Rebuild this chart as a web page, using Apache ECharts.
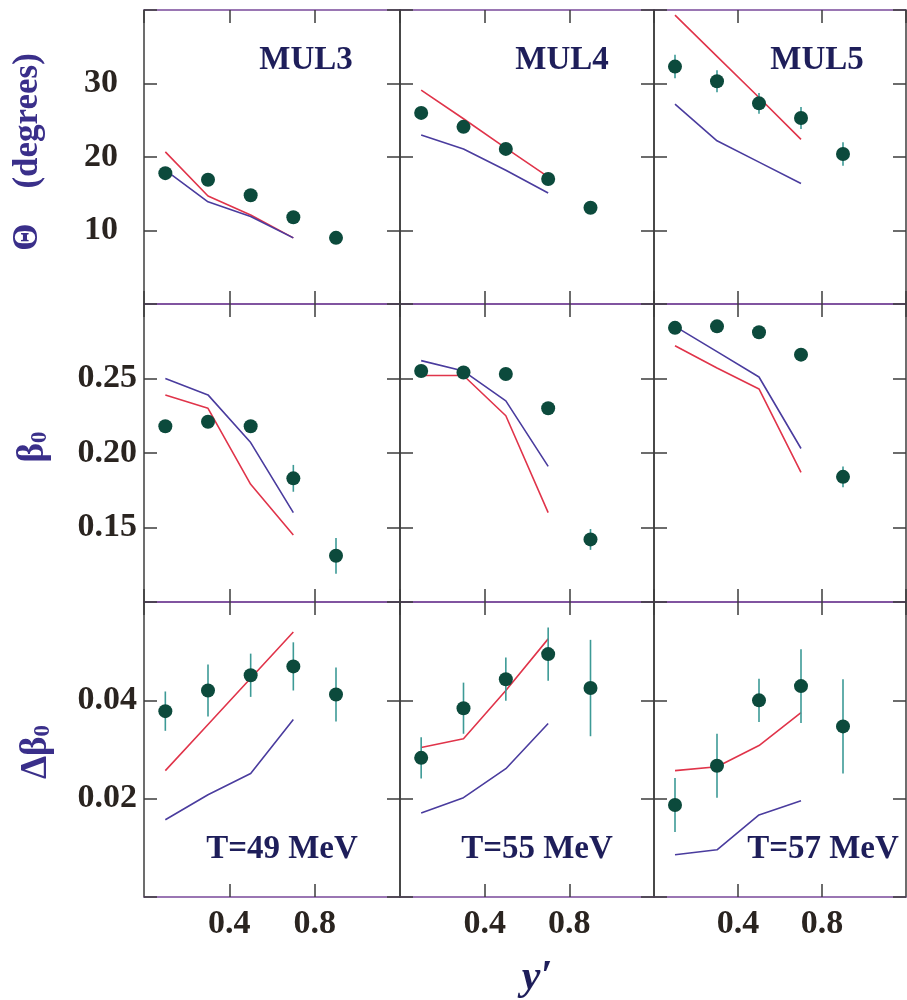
<!DOCTYPE html>
<html>
<head>
<meta charset="utf-8">
<script src="https://cdn.jsdelivr.net/npm/echarts@6/dist/echarts.min.js"></script>
<style>
  html, body { margin: 0; padding: 0; background: #fff; }
  #chart { width: 907px; height: 1000px; }
</style>
</head>
<body>
<div id="chart"></div>
<script>
// x positions (y')
var yPrime = [0.1, 0.3, 0.5, 0.7, 0.9];
var modelX = [0.1, 0.3, 0.5, 0.7];
var xTicks = ['0.4', '0.8'];

var panelTop = ['MUL3', 'MUL4', 'MUL5'];
var panelBottom = ['T=49 MeV', 'T=55 MeV', 'T=57 MeV'];

// Theta (degrees): one row per column MUL3, MUL4, MUL5
var thetaExp = [[17.8, 16.9, 14.8, 11.8, 9.0], [26.0, 24.1, 21.1, 17.0, 13.1], [32.3, 30.3, 27.3, 25.3, 20.4]];
var thetaErr = [[0.6, 0.6, 0.6, 0.6, 0.6], [0.6, 0.6, 0.6, 0.6, 0.6], [1.6, 1.5, 1.4, 1.5, 1.6]];
var thetaRed = [[20.7, 14.7, 12.1, 9.0], [29.1, 25.2, 21.2, 17.3], [39.3, 33.7, 28.1, 22.4]];
var thetaBlue = [[18.2, 13.9, 11.9, 9.0], [23.0, 21.1, 18.2, 15.1], [27.2, 22.2, 19.3, 16.4]];

// beta_0
var betaExp = [[0.218, 0.221, 0.218, 0.183, 0.131], [0.255, 0.254, 0.253, 0.230, 0.142], [0.284, 0.285, 0.281, 0.266, 0.184]];
var betaErr = [[0.004, 0.004, 0.004, 0.009, 0.012], [0.004, 0.004, 0.004, 0.004, 0.007], [0.004, 0.004, 0.004, 0.004, 0.007]];
var betaRed = [[0.239, 0.230, 0.179, 0.145], [0.252, 0.252, 0.225, 0.160], [0.272, 0.257, 0.243, 0.187]];
var betaBlue = [[0.250, 0.239, 0.207, 0.160], [0.262, 0.255, 0.235, 0.191], [0.285, 0.268, 0.251, 0.203]];

// delta beta_0
var dbExp = [[0.0378, 0.0420, 0.0451, 0.0469, 0.0412], [0.0283, 0.0384, 0.0443, 0.0494, 0.0425], [0.0187, 0.0267, 0.0400, 0.0429, 0.0347]];
var dbErr = [[0.0040, 0.0053, 0.0044, 0.0049, 0.0055], [0.0042, 0.0052, 0.0044, 0.0054, 0.0098], [0.0055, 0.0065, 0.0044, 0.0075, 0.0096]];
var dbRed = [[0.0257, 0.0351, 0.0445, 0.0539], [0.0304, 0.0322, 0.0420, 0.0525], [0.0257, 0.0265, 0.0308, 0.0375]];
var dbBlue = [[0.0157, 0.0208, 0.0251, 0.0361], [0.0171, 0.0202, 0.0261, 0.0353], [0.0086, 0.0096, 0.0167, 0.0196]];

var rowExp = [thetaExp, betaExp, dbExp];
var rowErr = [thetaErr, betaErr, dbErr];
var rowRed = [thetaRed, betaRed, dbRed];
var rowBlue = [thetaBlue, betaBlue, dbBlue];
var rowMin = [0, 0.10, 0];
var rowMax = [40, 0.30, 0.06];
var rowStep = [10, 0.05, 0.02];

// layout
var colLeft = [144, 400, 654];
var colWidth = [256, 254, 252];
var rowTop = [10, 304, 602];
var rowHeight = [294, 298, 295];
var topLabelX = [306, 562, 817];
var bottomLabelX = [282, 537, 823];

var FONT = '"Liberation Serif", "Times New Roman", serif';
var hLine = '#7a4a9a';
var vLine = '#3c3c3c';
var redC = '#e0344a';
var blueC = '#4a3c9e';
var dotC = '#0c4a3c';
var errC = '#3d9a96';
var nameC = '#3a2f8a';
var labelC = '#1e1e5a';

function yLabel(r) {
  return function (v) {
    if (r === 0) return (v > 5 && v < 35) ? String(Math.round(v)) : '';
    if (r === 1) return (v > 0.12 && v < 0.28) ? v.toFixed(2) : '';
    return (v > 0.01 && v < 0.05) ? v.toFixed(2) : '';
  };
}
function xLabel(v) {
  for (var k = 0; k < xTicks.length; k++) {
    if (Math.abs(v - parseFloat(xTicks[k])) < 1e-6) return xTicks[k];
  }
  return '';
}
function zip(xs, ys) {
  return xs.map(function (x, k) { return [x, ys[k]]; });
}

var grids = [], xAxes = [], yAxes = [], series = [];
for (var r = 0; r < 3; r++) {
  for (var c = 0; c < 3; c++) {
    var gi = grids.length;
    grids.push({
      left: colLeft[c], top: rowTop[r], width: colWidth[c], height: rowHeight[r],
      containLabel: false, outerBoundsMode: 'none'
    });
    ['bottom', 'top'].forEach(function (pos) {
      xAxes.push({
        type: 'value', gridIndex: gi, position: pos, min: 0, max: 1.2, interval: 0.4,
        axisLine: { show: true, onZero: false, lineStyle: { color: hLine, width: 1.5 } },
        axisTick: { show: true, inside: true, length: 13, lineStyle: { color: vLine, width: 1.5 } },
        axisLabel: {
          show: pos === 'bottom' && r === 2, formatter: xLabel, margin: 10,
          fontFamily: FONT, fontWeight: 'bold', fontSize: 34, color: '#2a2420',
          showMinLabel: false, showMaxLabel: false
        },
        splitLine: { show: false }
      });
    });
    ['left', 'right'].forEach(function (pos) {
      yAxes.push({
        type: 'value', gridIndex: gi, position: pos,
        min: rowMin[r], max: rowMax[r], interval: rowStep[r],
        axisLine: { show: true, onZero: false, lineStyle: { color: vLine, width: 1.5 } },
        axisTick: { show: true, inside: true, length: 13, lineStyle: { color: vLine, width: 1.5 } },
        axisLabel: {
          show: pos === 'left' && c === 0, formatter: yLabel(r), margin: r === 0 ? 26 : 7,
          fontFamily: FONT, fontWeight: 'bold', fontSize: 34, color: '#2a2420'
        },
        splitLine: { show: false }
      });
    });
    var ax = 2 * gi;
    series.push({
      type: 'line', xAxisIndex: ax, yAxisIndex: ax, data: zip(modelX, rowRed[r][c]),
      symbol: 'none', lineStyle: { color: redC, width: 1.6 }, z: 2, silent: true
    });
    series.push({
      type: 'line', xAxisIndex: ax, yAxisIndex: ax, data: zip(modelX, rowBlue[r][c]),
      symbol: 'none', lineStyle: { color: blueC, width: 1.6 }, z: 2, silent: true
    });
    series.push({
      type: 'custom', xAxisIndex: ax, yAxisIndex: ax, z: 3, silent: true,
      data: yPrime.map(function (x, k) { return [x, rowExp[r][c][k], rowErr[r][c][k]]; }),
      encode: { x: 0, y: 1 },
      renderItem: function (params, api) {
        var x = api.value(0), y = api.value(1), e = api.value(2);
        var p1 = api.coord([x, y - e]);
        var p2 = api.coord([x, y + e]);
        return {
          type: 'line',
          shape: { x1: p1[0], y1: p1[1], x2: p2[0], y2: p2[1] },
          style: { stroke: errC, lineWidth: 1.6 }
        };
      }
    });
    series.push({
      type: 'scatter', xAxisIndex: ax, yAxisIndex: ax, z: 4, silent: true,
      data: zip(yPrime, rowExp[r][c]), symbol: 'circle', symbolSize: 14,
      itemStyle: { color: dotC, opacity: 1 }
    });
  }
}

var graphics = [];
panelTop.forEach(function (t, c) {
  graphics.push({
    type: 'text', x: topLabelX[c], y: 60,
    style: { text: t, font: 'bold 33px ' + FONT, fill: labelC, align: 'center', verticalAlign: 'middle' }
  });
});
panelBottom.forEach(function (t, c) {
  graphics.push({
    type: 'text', x: bottomLabelX[c], y: 849,
    style: { text: t, font: 'bold 33px ' + FONT, fill: labelC, align: 'center', verticalAlign: 'middle' }
  });
});
// axis names
graphics.push({
  type: 'text', x: 28, y: 152, rotation: Math.PI / 2,
  style: { text: '\u0398    (degrees)', font: 'bold 35px ' + FONT, fill: nameC, align: 'center', verticalAlign: 'middle' }
});
graphics.push({
  type: 'text', x: 30, y: 447, rotation: Math.PI / 2,
  style: {
    text: '{b|\u03b2}{s|0}', align: 'center', verticalAlign: 'middle',
    rich: {
      b: { font: 'bold 37px ' + FONT, fill: nameC, lineHeight: 44, verticalAlign: 'bottom' },
      s: { font: 'bold 23px ' + FONT, fill: nameC, lineHeight: 44, verticalAlign: 'bottom' }
    }
  }
});
graphics.push({
  type: 'text', x: 33, y: 752, rotation: Math.PI / 2,
  style: {
    text: '{b|\u0394\u03b2}{s|0}', align: 'center', verticalAlign: 'middle',
    rich: {
      b: { font: 'bold 37px ' + FONT, fill: nameC, lineHeight: 44, verticalAlign: 'bottom' },
      s: { font: 'bold 23px ' + FONT, fill: nameC, lineHeight: 44, verticalAlign: 'bottom' }
    }
  }
});
graphics.push({
  type: 'text', x: 537, y: 978,
  style: { text: 'y\u2032', font: 'italic bold 42px ' + FONT, fill: labelC, align: 'center', verticalAlign: 'middle' }
});

var myChart = echarts.init(document.getElementById('chart'), null, { renderer: 'canvas' });
myChart.setOption({
  backgroundColor: '#fff',
  animation: false,
  grid: grids,
  xAxis: xAxes,
  yAxis: yAxes,
  series: series,
  graphic: graphics
});
</script>
</body>
</html>
